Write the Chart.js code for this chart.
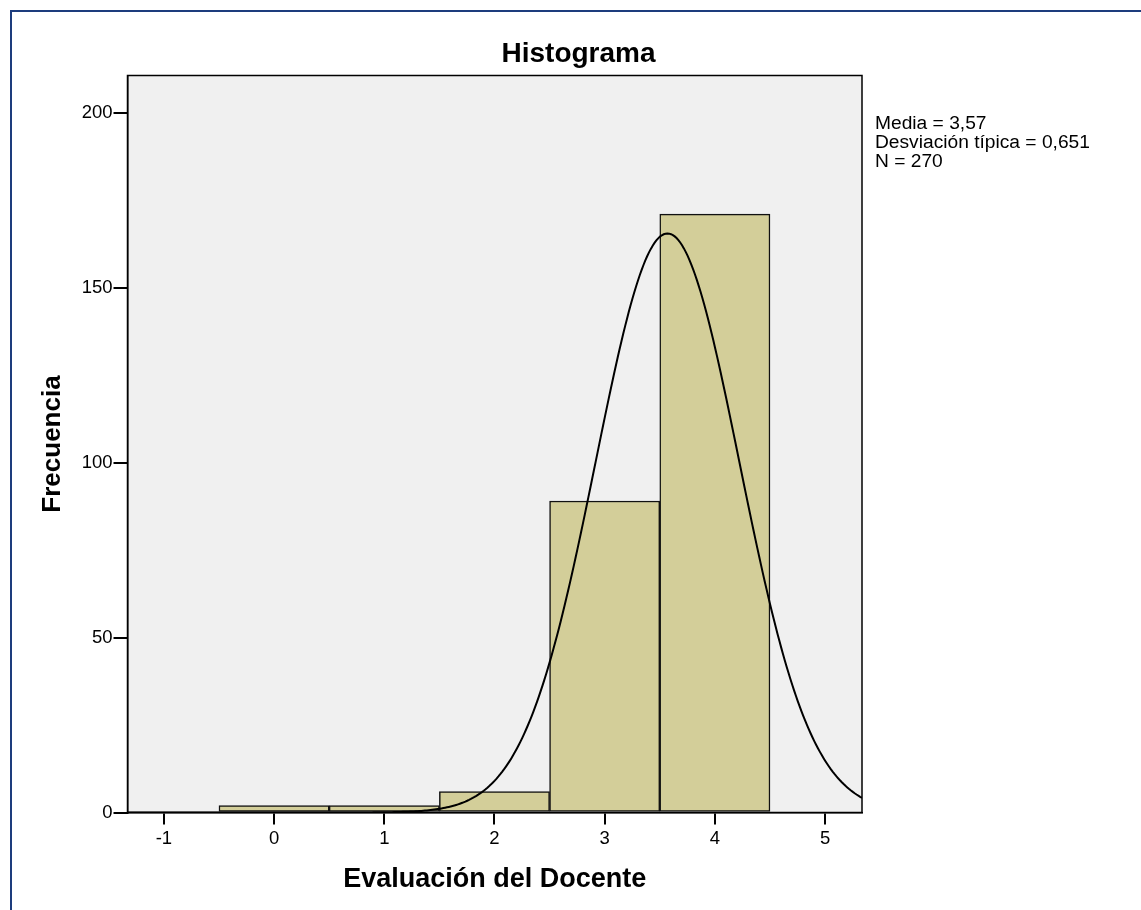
<!DOCTYPE html>
<html><head><meta charset="utf-8">
<script src="https://cdn.jsdelivr.net/npm/chart.js@4"></script>
<style>
html,body{margin:0;padding:0;background:#fff;}
#wrap{position:relative;width:1141px;height:910px;overflow:hidden;}
#frame{position:absolute;left:10px;top:10px;right:-5px;bottom:-5px;border-top:2px solid #1d3c7d;border-left:2px solid #1d3c7d;}
canvas{position:absolute;left:0;top:0;}
</style></head><body>
<div id="wrap"><div id="frame"></div><canvas id="c" width="1141" height="910"></canvas></div>
<script>
// ---- data ----
const binCentres = [0, 1, 2, 3, 4];
const frequencies = [2, 2, 6, 89, 171];
const xTicks = [-1, 0, 1, 2, 3, 4, 5];
const yTicks = [0, 50, 100, 150, 200];
const mean = 3.57;
const sd = 0.651;
const n = 270;
const binWidth = 1;
const statLabels = ['Media = 3,57', 'Desviación típica = 0,651', 'N = 270'];
const chartTitle = 'Histograma';
const xTitle = 'Evaluación del Docente';
const yTitle = 'Frecuencia';
const xMin = -1.33, xMax = 5.335, yMin = 0, yMax = 210.6;

// bars
const barData = binCentres.map((c, i) => ({x: c, y: frequencies[i]}));
// fitted normal curve defined by the stated mean, sd and N
const curveData = [];
const steps = 400;
for (let i = 0; i <= steps; i++) {
  const x = xMin + (xMax - xMin) * i / steps;
  const z = (x - mean) / sd;
  curveData.push({x, y: n * binWidth * Math.exp(-0.5 * z * z) / (sd * Math.sqrt(2 * Math.PI))});
}

const FONT = "'Liberation Sans', Arial, sans-serif";

const deco = {
  id: 'deco',
  beforeDraw(chart) {
    const {ctx, chartArea: a} = chart;
    ctx.save();
    ctx.fillStyle = '#f0f0f0';
    ctx.fillRect(a.left, a.top, a.right - a.left, a.bottom - a.top);
    ctx.restore();
  },
  afterDraw(chart) {
    const {ctx, chartArea: a} = chart;
    ctx.save();
    ctx.strokeStyle = '#000';
    ctx.lineWidth = 1.5;
    ctx.strokeRect(a.left, a.top, a.right - a.left, a.bottom - a.top);
    ctx.fillStyle = '#000';
    ctx.font = 'bold 28px ' + FONT;
    ctx.textAlign = 'center';
    ctx.textBaseline = 'alphabetic';
    ctx.fillText(chartTitle, 578.5, 62);
    ctx.font = '19.2px ' + FONT;
    ctx.textAlign = 'left';
    statLabels.forEach((t, i) => ctx.fillText(t, 875, 129.3 + i * 18.7));
    ctx.restore();
  }
};

new Chart(document.getElementById('c'), {
  type: 'bar',
  data: {
    datasets: [
      {type: 'line', data: curveData, borderColor: '#000', borderWidth: 2, pointRadius: 0, tension: 0, fill: false, order: 0},
      {type: 'bar', data: barData, backgroundColor: '#d3ce99', borderColor: '#111', borderWidth: 1.5,
       borderSkipped: false, barPercentage: 1, categoryPercentage: 1, order: 1}
    ]
  },
  options: {
    responsive: false,
    animation: false,
    devicePixelRatio: 1,
    layout: {padding: {left: 10, top: 75.5, right: 279, bottom: 0}},
    plugins: {legend: {display: false}, tooltip: {enabled: false}, title: {display: false}},
    scales: {
      x: {
        type: 'linear', min: xMin, max: xMax, offset: false,
        afterFit(s) { s.height = 97.5; },
        afterBuildTicks(s) { s.ticks = xTicks.map(v => ({value: v})); },
        grid: {offset: false, drawOnChartArea: false, drawTicks: true, tickLength: 12, color: '#000', lineWidth: 2},
        border: {display: true, color: '#000', width: 1.5},
        ticks: {padding: 3, color: '#000', font: {family: FONT, size: 18.5}, maxRotation: 0, autoSkip: false},
        title: {display: true, text: xTitle, color: '#000', font: {family: FONT, size: 27, weight: 'bold'}, padding: {top: 0, bottom: 13.8}}
      },
      y: {
        type: 'linear', min: yMin, max: yMax,
        afterFit(s) { s.width = 117.5; },
        afterBuildTicks(s) { s.ticks = yTicks.map(v => ({value: v})); },
        grid: {drawOnChartArea: false, drawTicks: true, tickLength: 14, color: '#000', lineWidth: 2},
        border: {display: true, color: '#000', width: 1.5},
        ticks: {padding: 1, color: '#000', font: {family: FONT, size: 18.5}, autoSkip: false},
        title: {display: true, text: yTitle, color: '#000', font: {family: FONT, size: 26, weight: 'bold'}, padding: {top: 27, bottom: 0}}
      }
    }
  },
  plugins: [deco]
});
</script>
</body></html>
